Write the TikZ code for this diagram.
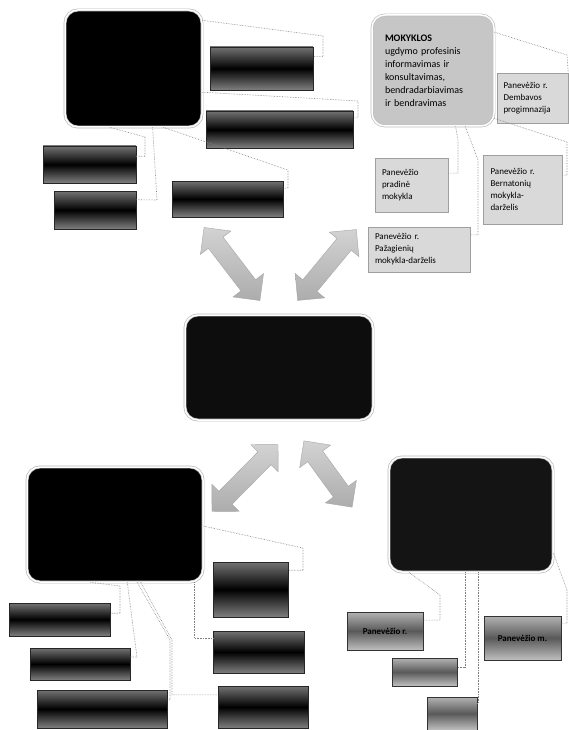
\documentclass[tikz,border=0pt]{standalone}
\usepackage{fontspec}
\setmainfont{Carlito}
\usetikzlibrary{shapes.arrows}

\begin{document}
\begin{tikzpicture}[%
	x=1pt, y=-1pt,
	hub/.style={draw=gray!55, line width=0.7pt, double=white, double distance=1.5pt, fill=black, rounded corners=13pt, inner sep=0pt},
	grayhub/.style={hub, fill=gray!45, draw=gray!50, text width=96pt, align=left, font=\fontsize{10}{13}\selectfont},
	dark/.style={draw=black!85, top color=black!55, bottom color=black!50, middle color=black, inner sep=0pt},
	dim/.style={draw=black!80, top color=gray!60, bottom color=gray!50, middle color=black!65, inner sep=2pt, font=\bfseries\fontsize{9}{11}\selectfont},
	lite/.style={draw=gray!75, fill=gray!30, inner sep=0pt, align=left, font=\fontsize{9}{12}\selectfont},
	link/.style={draw=gray, densely dotted, line width=0.6pt},
	bigarrow/.style={double arrow, double arrow head extend=10pt, inner sep=0pt, inner ysep=9pt, draw=gray!70, top color=gray!35, bottom color=gray!65}
]
\useasboundingbox (0,0) rectangle (568,730);

\node[hub, minimum width=137pt, minimum height=117pt] (tl) at (133.5,68.5) {};
\node[dark, minimum width=103pt, minimum height=43pt] (tl1) at (261.5,68.5) {};
\node[dark, minimum width=147pt, minimum height=37pt] (tl2) at (279.5,129.5) {};
\node[dark, minimum width=93pt, minimum height=37pt] (tl3) at (89.5,164.5) {};
\node[dark, minimum width=82pt, minimum height=38pt] (tl4) at (95,210) {};
\node[dark, minimum width=111pt, minimum height=36pt] (tl5) at (227.5,199) {};

\node[grayhub, minimum width=122pt, minimum height=111pt] (tr) at (433,70.5) {\textbf{MOKYKLOS}\\ugdymo profesinis\\informavimas ir\\konsultavimas,\\bendradarbiavimas\\ir bendravimas};
\node[lite, text width=58pt, minimum width=71pt, minimum height=50pt] (tr1) at (532.5,98) {Panevėžio r.\\Dembavos\\progimnazija};
\node[lite, text width=59pt, minimum width=73pt, minimum height=54pt] (tr2) at (411.5,185) {Panevėžio\\pradinė\\mokykla};
\node[lite, text width=64pt, minimum width=79pt, minimum height=69pt] (tr3) at (522.5,189.5) {Panevėžio r.\\Bernatonių\\mokykla-\\darželis};
\node[lite, text width=88pt, minimum width=102pt, minimum height=45pt] (tr4) at (419,249.5) {Panevėžio r.\\Pažagienių\\mokykla-darželis};

\node[bigarrow, minimum height=92pt, rotate=-52.6] (ar1) at (232,264) {};
\node[bigarrow, minimum height=92pt, rotate=50.4] (ar2) at (327,265) {};

\node[hub, fill=black!95, minimum width=188pt, minimum height=105pt] (center) at (279,367.5) {};

\node[bigarrow, minimum height=94pt, rotate=45.4] (ar3) at (245,478) {};
\node[bigarrow, minimum height=82pt, rotate=-54] (ar4) at (328,474) {};

\node[hub, minimum width=176pt, minimum height=115pt] (bl) at (115,524.5) {};
\node[dark, minimum width=101pt, minimum height=33pt] (bl1) at (59.5,619.5) {};
\node[dark, minimum width=100pt, minimum height=32pt] (bl2) at (80,664) {};
\node[dark, minimum width=130pt, minimum height=38pt] (bl3) at (102,709) {};
\node[dark, minimum width=75pt, minimum height=55pt] (bl4) at (250.5,589.5) {};
\node[dark, minimum width=91pt, minimum height=42pt] (bl5) at (258.5,652) {};
\node[dark, minimum width=90pt, minimum height=42pt] (bl6) at (263,707) {};

\node[hub, fill=black!92, minimum width=164pt, minimum height=115pt] (br) at (471,514.5) {};
\node[dim, minimum width=76pt, minimum height=38pt] (br1) at (385,631) {Panevėžio r.};
\node[dim, minimum width=65pt, minimum height=28pt] (br2) at (424.5,672) {};
\node[dim, minimum width=50pt, minimum height=33pt] (br3) at (452,713.5) {};
\node[dim, minimum width=77pt, minimum height=44pt] (br4) at (522.5,638) {Panevėžio m.};

\path[link] (tl.35) -- (323,36) |- (tl1.13);
\path[link] (tl.-19) -- (358,101) |- (tl2.9);
\path[link] (tl.-112) -- (145,137) |- (tl3.10);
\path[link] (tl.-72) -- (157,200) -- (tl4.14);
\path[link] (tl.-63) -- (288,170) |- (tl5.11);

\path[link] (tr.32) -- (567,55) -- (tr1.north east);
\path[link] (tr.-38) -- (567,142) |- (tr3.20);
\path[link] (tr.-68) -- (458,140) |- (tr2.18);
\path[link] (tr.-60) -- (478,160) |- (tr4.16);

\path[link] (bl.-1) -- (303,548) |- (bl4.27);
\path[link] (bl.-113) -- (120,586) |- (bl1.7);
\path[link] (bl.-78) -- (137,657) -- (bl2.8);
\path[link] (bl.-69) -- (170,640) |- (bl3.8);
\path[link] (bl.-66) -- (172,640) |- (bl6.165);
\path[link] (bl.-36) |- (bl5.163);

\path[link] (br.-137) -- (440,595) |- (br1.16);
\path[link] (br.-96) |- (br2.9);
\path[link] (br.-83) |- (br3.23);
\path[link] (br.-25) -- (567,590) |- (br4.21);

\end{tikzpicture}
\end{document}
